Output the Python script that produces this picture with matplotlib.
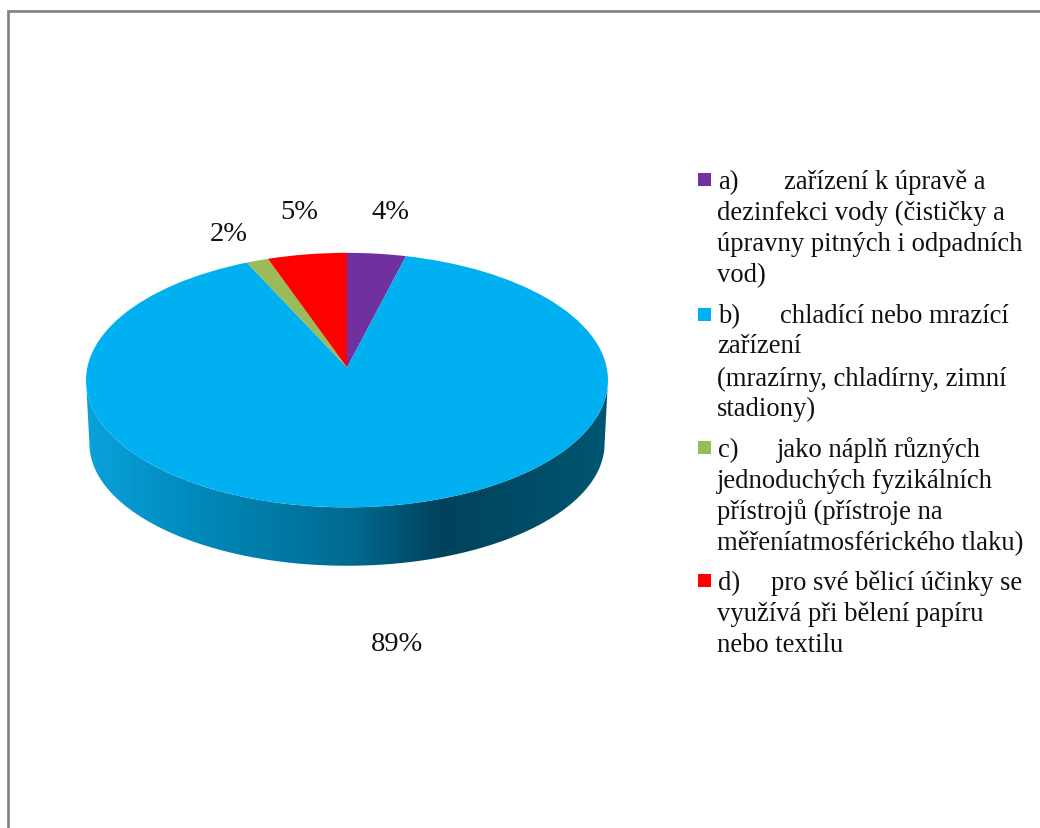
import numpy as np
import matplotlib
matplotlib.use('Agg')
import matplotlib.pyplot as plt
from matplotlib.colors import LinearSegmentedColormap
from matplotlib.patches import Polygon, Rectangle
from matplotlib.transforms import Transform

plt.rcParams['font.family'] = ['Liberation Serif', 'DejaVu Sans']

# values
shares = [4.0, 89.1, 1.5, 5.4]
colors = ['#7030A0', '#00B0F0', '#9BBB59', '#FF0000']
pct_pos = [(391, 219), (397, 651), (229, 241), (299, 219)]

# legend text, line by line
legend_heads = ['a)', 'b)', 'c)', 'd)']
legend_first = ['zařízení k úpravě a', 'chladící nebo mrazící', 'jako náplň různých', 'pro své bělicí účinky se']
legend_rest = [
    ['dezinfekci vody (čističky a', 'úpravny pitných i odpadních', 'vod)'],
    ['zařízení', '(mrazírny, chladírny, zimní', 'stadiony)'],
    ['jednoduchých fyzikálních', 'přístrojů (přístroje na', 'měřeníatmosférického tlaku)'],
    ['využívá při bělení papíru', 'nebo textilu'],
]
legend_first_x = [784, 780, 777, 771]
legend_marker_y = [180.5, 315, 448, 581]
legend_line_y = [
    [189, 220, 251, 282],
    [323, 353, 386, 416],
    [457, 488, 519, 550],
    [590, 621, 652],
]

fs = 19.2
fs_pct = 20.5
W, H = 1040, 829

# pie geometry in pixels
cx, cy = 347, 368.5
rx, ry, k = 259.7, 126.0, 0.099
depth_y, depth_shrink = 63.5, 0.987


class Tilt(Transform):
    # unit circle -> tilted disc seen in perspective, in pixel coords
    input_dims = 2
    output_dims = 2

    def transform_non_affine(self, xy):
        xy = np.asarray(xy, dtype=float)
        w = 1 + k * xy[:, 1]
        return np.column_stack([cx + rx * xy[:, 0] / w, cy - ry * xy[:, 1] / w])


fig = plt.figure(figsize=(W / 100, H / 100), dpi=100)
ax = fig.add_axes([0, 0, 1, 1])

# side of the disc, gradient clipped to the rim
th = np.linspace(np.pi + 0.1, np.pi * 2 - 0.1, 200)
rim = Tilt().transform_non_affine(np.column_stack([np.cos(th), np.sin(th)]))
mid_y = 381
low = np.column_stack([cx + (rim[:, 0] - cx) * depth_shrink,
                       mid_y + depth_y + (rim[:, 1] - mid_y) * 0.96])
side_cmap = LinearSegmentedColormap.from_list('side', [
    (0.0, '#0AA2DA'), (0.22, '#0088BA'), (0.5, '#006C92'),
    (0.68, '#00425C'), (1.0, '#005672')])
grad = np.linspace(0, 1, 512).reshape(1, -1)
im = ax.imshow(grad, cmap=side_cmap, aspect='auto', extent=[86, 608, 570, 375], zorder=1)
clip = Polygon(np.vstack([rim, low[::-1]]), closed=True, transform=ax.transData,
               facecolor='none', edgecolor='none')
ax.add_patch(clip)
im.set_clip_path(clip)

wedges, _ = ax.pie(shares, colors=colors, startangle=90, counterclock=False)
tilt = Tilt() + ax.transData
for w in wedges:
    w.set_transform(tilt)
    w.set_zorder(2)
    w.set_clip_on(False)

ax.set_aspect('auto')
ax.set_xlim(0, W)
ax.set_ylim(H, 0)
ax.axis('off')

# percent labels
for v, (x, y) in zip(shares, pct_pos):
    ax.text(x, y, f'{v:.0f}%', fontsize=fs_pct, ha='center', va='baseline', color='#111111')

# legend
for i in range(4):
    ys = legend_line_y[i]
    ax.add_patch(Rectangle((698, legend_marker_y[i] - 6.5), 13, 13, facecolor=colors[i], edgecolor='none'))
    ax.text(718, ys[0], legend_heads[i], fontsize=fs, va='baseline', color='#111111')
    ax.text(legend_first_x[i], ys[0], legend_first[i], fontsize=fs, va='baseline', color='#111111')
    for line, y in zip(legend_rest[i], ys[1:]):
        ax.text(717, y, line, fontsize=fs, va='baseline', color='#111111')

# chart frame, only top and left are in the crop
ax.plot([8, 8, W], [H, 12, 12], color='#868686', lw=2, solid_joinstyle='miter', clip_on=False)

fig.savefig('out.png', dpi=100)
